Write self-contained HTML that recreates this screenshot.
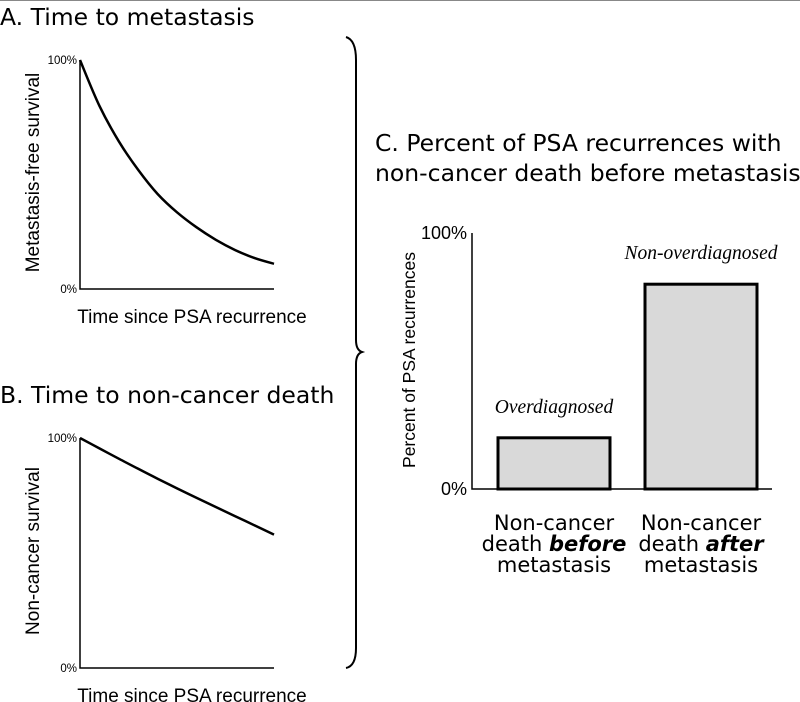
<!DOCTYPE html>
<html><head><meta charset="utf-8"><style>
body{margin:0;background:#fff}
svg{display:block}
.t{font-family:"DejaVu Sans","Liberation Sans",sans-serif;fill:#000}
.l{font-family:"Liberation Sans",sans-serif;fill:#000}
</style></head><body>
<svg width="800" height="702" viewBox="0 0 800 702">
<line x1="0" y1="0.5" x2="800" y2="0.5" stroke="#888" stroke-width="1"/>
<text class="t" x="0" y="25" font-size="23.5">A. Time to metastasis</text>
<text class="t" x="0" y="403" font-size="23.5">B. Time to non-cancer death</text>
<text class="t" x="375" y="151" font-size="23.5">C. Percent of PSA recurrences with</text>
<text class="t" x="375" y="181" font-size="23.5">non-cancer death before metastasis</text>
<path d="M346,37 Q356,40 356,60 L356,340 Q356,350 362,352 Q356,354 356,364 L356,648 Q356,666 346,668" fill="none" stroke="#000" stroke-width="2"/>
<g id="pa"></g>
<g id="pb"></g>
<g id="pc"></g>
</svg>
<script>
const timeSteps=[0,0.1,0.2,0.3,0.4,0.5,0.6,0.7,0.8,0.9,1.0];
const metastasisFree=[1,0.80,0.645,0.52,0.415,0.335,0.27,0.215,0.17,0.135,0.11];
const nonCancerSurv=[1,0.955,0.91,0.866,0.823,0.781,0.74,0.70,0.66,0.62,0.58];
const barCategories=["before","after"];
const barValues=[0.20,0.80];
const barNotes=["Overdiagnosed","Non-overdiagnosed"];
const NS="http://www.w3.org/2000/svg";
function mk(p,tag,a,txt){const e=document.createElementNS(NS,tag);for(const k in a)e.setAttribute(k,a[k]);if(txt!=null)e.textContent=txt;p.appendChild(e);return e;}
function survPanel(g,x0,x1,yTop,yBot,vals,ylab){
  const sx=t=>x0+t*(x1-x0), sy=v=>yBot-v*(yBot-yTop);
  const ax=mk(g,'path',{d:`M${x0},${yTop} L${x0},${yBot} L${x1},${yBot}`,fill:'none',stroke:'#000','stroke-width':1.5});
  
  
  const P=vals.map((v,i)=>[sx(timeSteps[i]),sy(v)]);
  let d=`M${P[0][0]},${P[0][1]}`;
  for(let i=0;i<P.length-1;i++){
    const p0=P[Math.max(0,i-1)],p1=P[i],p2=P[i+1],p3=P[Math.min(P.length-1,i+2)];
    const c1=[p1[0]+(p2[0]-p0[0])/6,p1[1]+(p2[1]-p0[1])/6],c2=[p2[0]-(p3[0]-p1[0])/6,p2[1]-(p3[1]-p1[1])/6];
    d+=` C${c1[0].toFixed(1)},${c1[1].toFixed(1)} ${c2[0].toFixed(1)},${c2[1].toFixed(1)} ${p2[0].toFixed(1)},${p2[1].toFixed(1)}`;
  }
  const ln=mk(g,'path',{d,fill:'none',stroke:'#000','stroke-width':2.5,'stroke-linejoin':'round'});
  
  
  const t1=mk(g,'text',{class:'l',x:x0-3,y:sy(1)+4,'font-size':11.5,'text-anchor':'end'},'100%');
  
  
  const t0=mk(g,'text',{class:'l',x:x0-3,y:sy(0)+4,'font-size':11.5,'text-anchor':'end'},'0%');
  
  
  const xl=mk(g,'text',{class:'l',x:(x0+x1)/2+15,y:yBot+34,'font-size':19,'text-anchor':'middle'},'Time since PSA recurrence');
  
  
  const yc=(yTop+yBot)/2-2;
  const yl=mk(g,'text',{class:'l',x:39,y:yc,'font-size':19,'text-anchor':'middle',transform:`rotate(-90 39 ${yc})`},ylab);
  
  
}
survPanel(document.getElementById('pa'),80,274,60,289,metastasisFree,'Metastasis-free survival');
survPanel(document.getElementById('pb'),80,274,438,668,nonCancerSurv,'Non-cancer survival');
(function(){
  const g=document.getElementById('pc');
  const yTop=233,yBot=489,x0=472,x1=772;
  const sy=v=>yBot-v*(yBot-yTop);
  const centers=[554,701],bw=112;
  const ax=mk(g,'path',{d:`M${x0},${yTop} L${x0},${yBot} L${x1},${yBot}`,fill:'none',stroke:'#000','stroke-width':1.5});
  
  
  barValues.forEach((v,i)=>{
    const r=mk(g,'rect',{x:centers[i]-bw/2,y:sy(v),width:bw,height:yBot-sy(v),fill:'#d9d9d9',stroke:'#000','stroke-width':3});
    
    
    const n=mk(g,'text',{x:centers[i],y:sy(v)-25,'font-size':19.5,'font-style':'italic','font-family':'"Liberation Serif",serif','text-anchor':'middle'},barNotes[i]);
    
    
    const lab=mk(g,'text',{class:'t','font-size':21,'text-anchor':'middle'});
    
    
    mk(lab,'tspan',{x:centers[i],y:530},'Non-cancer');
    const t2=mk(lab,'tspan',{x:centers[i],y:551},'death ');
    mk(t2,'tspan',{'font-weight':'bold','font-style':'italic'},barCategories[i]);
    mk(lab,'tspan',{x:centers[i],y:572},'metastasis');
  });
  const t1=mk(g,'text',{class:'l',x:467,y:sy(1)+6,'font-size':18,'text-anchor':'end'},'100%');
  
  
  const t0=mk(g,'text',{class:'l',x:467,y:sy(0)+6,'font-size':18,'text-anchor':'end'},'0%');
  
  
  const yc=360;
  const yl=mk(g,'text',{class:'l',x:415,y:yc,'font-size':17.5,'text-anchor':'middle',transform:`rotate(-90 415 ${yc})`},'Percent of PSA recurrences');
  
  
})();
</script>
</body></html>
